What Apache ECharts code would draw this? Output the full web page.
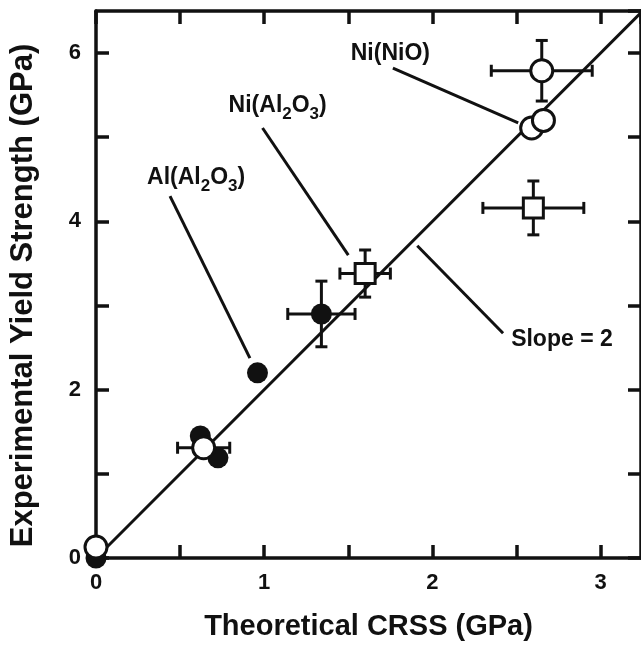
<!DOCTYPE html>
<html lang="en">
<head>
    <meta charset="UTF-8">
    <title>CRSS vs yield strength</title>
    <script src="https://cdn.jsdelivr.net/npm/echarts@6/dist/echarts.min.js"></script>
    <style>
        body { margin: 0; background: #fff; }
        #chart { width: 641px; height: 646px; }
    </style>
</head>
<body>
    <div id="chart"></div>
    <script>
        // data (x = theoretical CRSS, y = experimental yield strength, GPa)
        var alAl2O3 = [[0, 0], [0.62, 1.45], [0.725, 1.19], [0.96, 2.2], [1.34, 2.9]];
        var niNiO = [[0, 0.13], [0.64, 1.31], [2.59, 5.11], [2.66, 5.2], [2.65, 5.79]];
        var niAl2O3 = [[1.6, 3.38], [2.6, 4.16]];
        // [x, y, xErr, yErr]
        var errBars = [[1.34, 2.9, 0.2, 0.39], [0.64, 1.31, 0.155, 0], [2.65, 5.79, 0.3, 0.36],
                       [1.6, 3.38, 0.15, 0.28], [2.6, 4.16, 0.3, 0.32]];
        var slopeLine = [[0, 0], [3.25, 6.5]];
        // leader lines for the labels
        var leaders = [
            [[0.44, 4.30], [0.915, 2.375]],
            [[0.99, 5.11], [1.50, 3.60]],
            [[1.765, 5.82], [2.51, 5.17]],
            [[1.91, 3.71], [2.42, 2.67]]
        ];
        var labels = [
            [0.595, 4.52, '{n|Al(Al}{s|2}{n|O}{s|3}{n|)}'],
            [1.08, 5.37, '{n|Ni(Al}{s|2}{n|O}{s|3}{n|)}'],
            [1.75, 5.99, '{n|Ni(NiO)}'],
            [2.77, 2.6, '{n|Slope = 2}']
        ];

        var ink = '#111';
        var font = 'Liberation Sans';

        var chart = echarts.init(document.getElementById('chart'));

        function axisBase(extra) {
            var a = {
                type: 'value',
                axisLine: { show: true, onZero: false, lineStyle: { color: ink, width: 3.5 } },
                axisTick: { show: true, inside: true, length: 13, lineStyle: { color: ink, width: 3.5 } },
                splitLine: { show: false },
                axisLabel: { show: false }
            };
            return Object.assign(a, extra);
        }

        var option = {
            animation: false,
            grid: { left: 96, top: 11, width: 545, height: 549 },
            xAxis: [
                axisBase({
                    min: 0, max: 3.24, interval: 0.5, position: 'bottom',
                    name: 'Theoretical CRSS (GPa)', nameLocation: 'middle', nameGap: 54,
                    nameTextStyle: { fontFamily: font, fontWeight: 'bold', fontSize: 29, color: ink },
                    axisLabel: {
                        show: true, showMaxLabel: false, margin: 14, color: ink,
                        fontFamily: font, fontWeight: 'bold', fontSize: 22,
                        formatter: function (v) { return Number.isInteger(v) ? v : ''; }
                    }
                }),
                axisBase({ min: 0, max: 3.24, interval: 0.5, position: 'top' })
            ],
            yAxis: [
                axisBase({
                    min: 0, max: 6.5, interval: 1, position: 'left',
                    name: 'Experimental Yield Strength (GPa)', nameLocation: 'middle', nameGap: 57,
                    nameTextStyle: { fontFamily: font, fontWeight: 'bold', fontSize: 31, color: ink, padding: [0, 22, 0, 0] },
                    axisLabel: {
                        show: true, showMaxLabel: false, margin: 15, color: ink,
                        fontFamily: font, fontWeight: 'bold', fontSize: 22,
                        formatter: function (v) { return v % 2 === 0 ? v : ''; }
                    }
                }),
                axisBase({ min: 0, max: 6.5, interval: 1, position: 'right' })
            ],
            series: [
                {
                    type: 'custom',
                    z: 1,
                    renderItem: function (params, api) {
                        var x = api.value(0), y = api.value(1), xe = api.value(2), ye = api.value(3);
                        var cap = 6;
                        var kids = [];
                        var st = { stroke: ink, lineWidth: 3 };
                        if (xe > 0) {
                            var l = api.coord([x - xe, y]), r = api.coord([x + xe, y]);
                            kids.push({ type: 'line', shape: { x1: l[0], y1: l[1], x2: r[0], y2: r[1] }, style: st });
                            kids.push({ type: 'line', shape: { x1: l[0], y1: l[1] - cap, x2: l[0], y2: l[1] + cap }, style: st });
                            kids.push({ type: 'line', shape: { x1: r[0], y1: r[1] - cap, x2: r[0], y2: r[1] + cap }, style: st });
                        }
                        if (ye > 0) {
                            var t = api.coord([x, y + ye]), b = api.coord([x, y - ye]);
                            kids.push({ type: 'line', shape: { x1: t[0], y1: t[1], x2: b[0], y2: b[1] }, style: st });
                            kids.push({ type: 'line', shape: { x1: t[0] - cap, y1: t[1], x2: t[0] + cap, y2: t[1] }, style: st });
                            kids.push({ type: 'line', shape: { x1: b[0] - cap, y1: b[1], x2: b[0] + cap, y2: b[1] }, style: st });
                        }
                        return { type: 'group', children: kids };
                    },
                    data: errBars
                },
                {
                    type: 'line',
                    z: 2,
                    data: slopeLine,
                    symbol: 'none',
                    lineStyle: { color: ink, width: 3 },
                    markLine: {
                        silent: true,
                        symbol: 'none',
                        label: { show: false },
                        lineStyle: { color: ink, width: 3, type: 'solid' },
                        data: leaders.map(function (p) {
                            return [{ coord: p[0] }, { coord: p[1] }];
                        })
                    }
                },
                {
                    type: 'scatter',
                    z: 3,
                    data: alAl2O3,
                    symbol: 'circle',
                    symbolSize: 21,
                    itemStyle: { color: ink, opacity: 1 }
                },
                {
                    type: 'scatter',
                    z: 4,
                    data: niAl2O3,
                    symbol: 'rect',
                    symbolSize: 20,
                    itemStyle: { color: '#fff', borderColor: ink, borderWidth: 3, opacity: 1 }
                },
                {
                    type: 'scatter',
                    z: 5,
                    data: niNiO,
                    symbol: 'circle',
                    symbolSize: 22,
                    itemStyle: { color: '#fff', borderColor: ink, borderWidth: 3, opacity: 1 }
                },
                {
                    type: 'scatter',
                    z: 6,
                    data: labels,
                    symbolSize: 0,
                    silent: true,
                    itemStyle: { opacity: 1 },
                    label: {
                        show: true,
                        position: 'inside',
                        color: ink,
                        opacity: 1,
                        fontFamily: font,
                        fontWeight: 'bold',
                        textBorderWidth: 0,
                        formatter: function (p) { return p.data[2]; },
                        rich: {
                            n: { fontFamily: font, fontWeight: 'bold', fontSize: 23, color: ink, lineHeight: 26, textBorderWidth: 0 },
                            s: { fontFamily: font, fontWeight: 'bold', fontSize: 17, color: ink, lineHeight: 17, padding: [17, 0, 0, 0], textBorderWidth: 0 }
                        }
                    }
                }
            ]
        };

        chart.setOption(option);
    </script>
</body>
</html>
